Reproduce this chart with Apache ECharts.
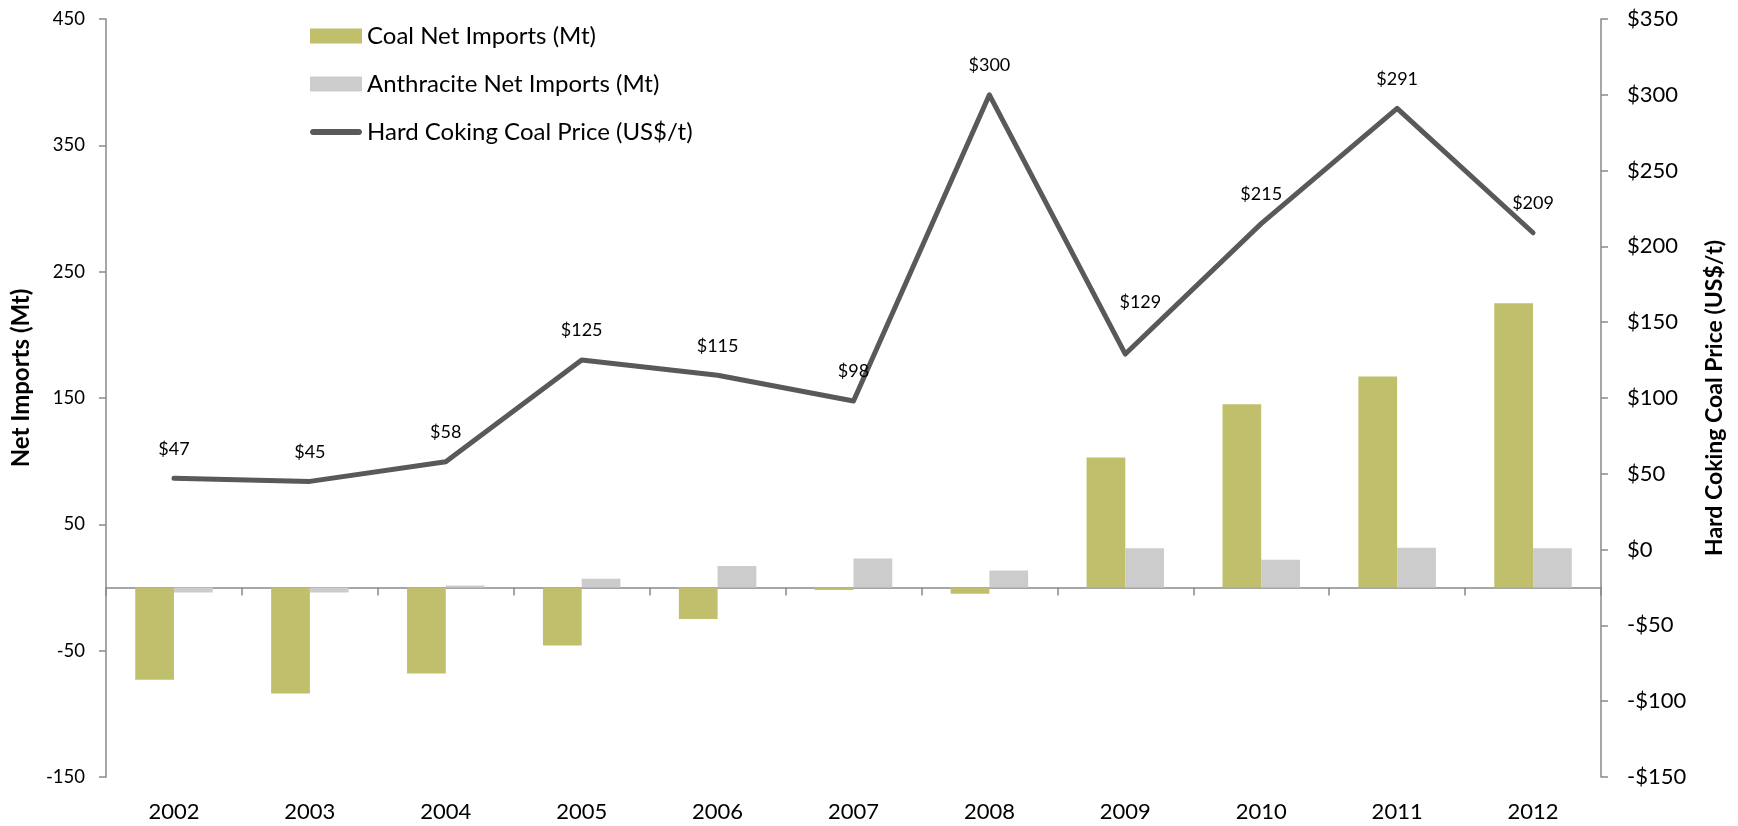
<!DOCTYPE html>
<html>
<head>
<meta charset="utf-8">
<script src="https://cdn.jsdelivr.net/npm/echarts@6/dist/echarts.min.js"></script>
<style>
html,body{margin:0;padding:0;background:#fff;}
#chart{width:1738px;height:826px;}
</style>
</head>
<body>
<div id="chart"></div>
<script>
const years = ['2002','2003','2004','2005','2006','2007','2008','2009','2010','2011','2012'];
const coalNetImports = [-73, -84, -68, -46, -25, -2, -5, 103, 145, 167, 225];
const anthraciteNetImports = [-4, -4, 1.5, 7, 17, 23, 13.5, 31, 22, 31.5, 31];
const cokingCoalPrice = [47, 45, 58, 125, 115, 98, 300, 129, 215, 291, 209];
const leftTicks = [-150, -50, 50, 150, 250, 350, 450];
const rightTicks = [-150, -100, -50, 0, 50, 100, 150, 200, 250, 300, 350];

const FONT = 'Lato';
const AXIS_COLOR = '#898989';
const LINE_ICON = 'path://M3,0 L49,0 C53,0 53,6 49,6 L3,6 C-1,6 -1,0 3,0 Z';
// label of the 2009 point sits up and to the right of its point in the original
const shiftedLabelIndex = 7;

const chart = echarts.init(document.getElementById('chart'));
chart.setOption({
  animation: false,
  backgroundColor: '#ffffff',
  textStyle: { fontFamily: FONT, color: '#000' },
  grid: { left: 106, right: 137, top: 19, bottom: 49, containLabel: false },
  legend: {
    orient: 'vertical',
    left: 310,
    top: 22,
    padding: 0,
    itemWidth: 52,
    itemHeight: 15,
    itemGap: 20,
    textStyle: { fontFamily: FONT, fontSize: 24, color: '#000', lineHeight: 28 },
    data: [
      { name: 'Coal Net Imports (Mt)', icon: 'rect' },
      { name: 'Anthracite Net Imports (Mt)', icon: 'rect' },
      { name: 'Hard Coking Coal Price (US$/t)', icon: LINE_ICON }
    ]
  },
  xAxis: [
    {
      type: 'category',
      data: years,
      position: 'bottom',
      axisLine: { show: false, onZero: false },
      axisTick: { show: false },
      axisLabel: { fontFamily: FONT, fontSize: 22, color: '#000', margin: 24 }
    },
    {
      type: 'category',
      data: years,
      position: 'bottom',
      axisLine: { show: true, onZero: true, onZeroAxisIndex: 0, lineStyle: { color: AXIS_COLOR, width: 1.5 } },
      axisTick: { show: true, length: 8, lineStyle: { color: AXIS_COLOR, width: 1.5 } },
      axisLabel: { show: false }
    }
  ],
  yAxis: [
    {
      type: 'value',
      min: leftTicks[0],
      max: leftTicks[leftTicks.length - 1],
      interval: 100,
      name: 'Net Imports (Mt)',
      nameLocation: 'middle',
      nameGap: 73,
      nameTextStyle: { fontFamily: FONT, fontSize: 24, fontWeight: 'bold', color: '#000', padding: [0, 0, 0, 40] },
      axisLine: { show: true, lineStyle: { color: AXIS_COLOR, width: 1.5 } },
      axisTick: { show: true, length: 7, lineStyle: { color: AXIS_COLOR, width: 1.5 } },
      axisLabel: { fontFamily: FONT, fontSize: 18.5, color: '#000', margin: 21 },
      splitLine: { show: false }
    },
    {
      type: 'value',
      min: rightTicks[0],
      max: rightTicks[rightTicks.length - 1],
      interval: 50,
      position: 'right',
      name: 'Hard Coking Coal Price (US$/t)',
      nameLocation: 'middle',
      nameGap: 102,
      nameRotate: 90,
      nameTextStyle: { fontFamily: FONT, fontSize: 23, fontWeight: 'bold', color: '#000' },
      axisLine: { show: true, lineStyle: { color: AXIS_COLOR, width: 1.5 } },
      axisTick: { show: true, length: 7, lineStyle: { color: AXIS_COLOR, width: 1.5 } },
      axisLabel: {
        fontFamily: FONT, fontSize: 22, color: '#000', margin: 26,
        formatter: v => (v < 0 ? '-$' + Math.abs(v) : '$' + v)
      },
      splitLine: { show: false }
    }
  ],
  series: [
    {
      name: 'Coal Net Imports (Mt)',
      type: 'bar',
      xAxisIndex: 0,
      yAxisIndex: 0,
      data: coalNetImports,
      barGap: '0%',
      barCategoryGap: '43%',
      itemStyle: { color: '#C0BF6C' }
    },
    {
      name: 'Anthracite Net Imports (Mt)',
      type: 'bar',
      xAxisIndex: 0,
      yAxisIndex: 0,
      data: anthraciteNetImports,
      barGap: '0%',
      barCategoryGap: '43%',
      itemStyle: { color: '#CCCCCC' }
    },
    {
      name: 'Hard Coking Coal Price (US$/t)',
      type: 'line',
      xAxisIndex: 0,
      yAxisIndex: 1,
      data: cokingCoalPrice.map((v, i) =>
        i === shiftedLabelIndex ? { value: v, label: { offset: [15, -22] } } : v
      ),
      symbol: 'circle',
      symbolSize: 1,
      showSymbol: true,
      lineStyle: { color: '#595959', width: 5, cap: 'round', join: 'round' },
      itemStyle: { color: '#595959' },
      label: {
        show: true,
        position: 'top',
        distance: 20,
        fontFamily: FONT,
        fontSize: 18,
        color: '#000',
        formatter: p => '$' + p.value
      },
      z: 5
    }
  ]
});
</script>
</body>
</html>
